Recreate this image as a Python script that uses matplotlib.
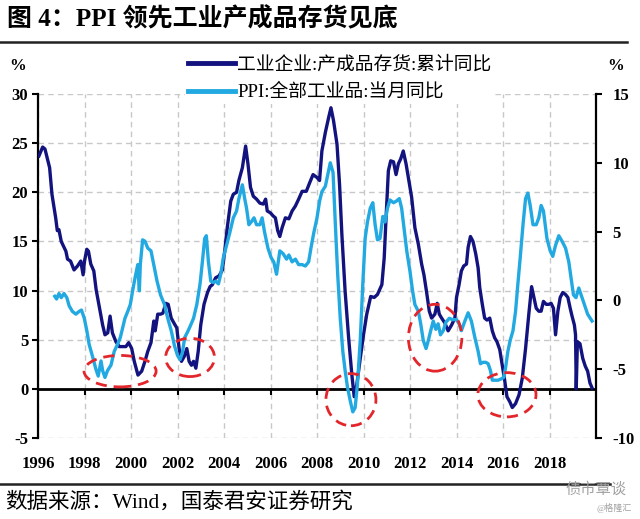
import matplotlib
matplotlib.use('Agg')
import matplotlib.pyplot as plt
from matplotlib.patches import Ellipse
from matplotlib.lines import Line2D

plt.rcParams['font.family'] = ['Liberation Serif', 'Noto Sans CJK SC']
plt.rcParams['font.weight'] = 'bold'
plt.rcParams['axes.unicode_minus'] = False

# 工业企业:产成品存货:累计同比 (left axis, %)
inv_t = [1996.04, 1996.2, 1996.3, 1996.5, 1996.6, 1996.76, 1996.83, 1996.9,
         1997.0, 1997.2, 1997.27, 1997.4, 1997.55, 1997.7, 1997.84, 1997.94,
         1998.0, 1998.1, 1998.17, 1998.27, 1998.4, 1998.5, 1998.63, 1998.78, 1998.88,
         1999.0, 1999.1, 1999.2, 1999.35, 1999.5, 1999.64, 1999.78, 1999.9,
         2000.03, 2000.14, 2000.3, 2000.46, 2000.6, 2000.72, 2000.86, 2000.98,
         2001.04, 2001.15, 2001.27, 2001.37, 2001.5, 2001.6, 2001.73, 2001.87, 2001.97,
         2002.07, 2002.17, 2002.29, 2002.4, 2002.5, 2002.6, 2002.69, 2002.79, 2002.89,
         2003.0, 2003.14, 2003.29, 2003.4, 2003.5, 2003.64, 2003.79, 2003.93,
         2004.03, 2004.14, 2004.29, 2004.4, 2004.54, 2004.64, 2004.79, 2004.93,
         2005.03, 2005.14, 2005.26, 2005.4, 2005.54, 2005.69, 2005.79, 2005.86,
         2006.0, 2006.11, 2006.21, 2006.31, 2006.4, 2006.5, 2006.64, 2006.79, 2006.93,
         2007.07, 2007.21, 2007.36, 2007.54, 2007.69, 2007.83,
         2008.0, 2008.11, 2008.21, 2008.36, 2008.5, 2008.6, 2008.71, 2008.86, 2008.97,
         2009.07, 2009.21, 2009.36, 2009.5, 2009.6, 2009.71, 2009.86,
         2010.0, 2010.14, 2010.31, 2010.46, 2010.6, 2010.79, 2010.89, 2010.97,
         2011.07, 2011.17, 2011.29, 2011.4, 2011.5, 2011.6, 2011.71, 2011.83, 2011.93,
         2012.07, 2012.21, 2012.36, 2012.5, 2012.6, 2012.71, 2012.83, 2012.93,
         2013.07, 2013.17, 2013.26, 2013.36, 2013.5, 2013.64, 2013.79, 2013.93,
         2014.0, 2014.11, 2014.21, 2014.31, 2014.43, 2014.5, 2014.6, 2014.71, 2014.83, 2014.93,
         2015.0, 2015.11, 2015.21, 2015.31, 2015.43, 2015.54, 2015.64, 2015.74, 2015.86, 2015.97,
         2016.07, 2016.17, 2016.29, 2016.4, 2016.54, 2016.69, 2016.83, 2016.97,
         2017.11, 2017.23, 2017.33, 2017.43, 2017.54, 2017.64, 2017.74, 2017.86, 2017.97,
         2018.07, 2018.17, 2018.26, 2018.36, 2018.46, 2018.57, 2018.69, 2018.79, 2018.89, 2018.97,
         2019.07, 2019.12, 2019.15, 2019.2, 2019.31, 2019.43, 2019.54, 2019.64, 2019.74, 2019.83]
inv_v = [23.7, 24.6, 24.4, 22.5, 19.8, 17.4, 16.1, 16.2,
         15.0, 14.0, 13.2, 13.0, 12.1, 12.5, 13.0, 11.6,
         13.0, 14.2, 14.0, 12.7, 12.0, 10.1, 8.4, 6.5, 5.5,
         5.7, 7.4, 5.7, 4.8, 4.3, 4.3, 4.3, 4.7,
         4.1, 2.8, 1.4, 1.8, 2.8, 3.8, 4.7, 6.9,
         5.9, 7.6, 7.6, 7.7, 8.7, 8.6, 7.2, 6.6, 6.2,
         4.1, 2.8, 3.3, 4.1, 2.8, 2.4, 2.8, 2.1, 3.8,
         6.5, 8.6, 9.8, 10.4, 10.6, 11.3, 11.5, 12.1,
         14.0, 16.4, 19.1, 19.8, 20.0, 21.2, 22.5, 24.7,
         22.9, 20.5, 19.6, 19.3, 18.9, 18.8, 19.3, 18.1,
         17.9, 17.6, 17.4, 16.1, 15.5, 16.4, 17.4, 17.3, 18.1,
         18.6, 19.3, 20.1, 20.1, 21.0, 21.8,
         21.5, 21.2, 24.2, 26.1, 27.6, 28.6, 27.3, 24.9, 20.8,
         15.7, 9.9, 5.2, 1.4, -0.8, 0.4, 3.1,
         5.5, 7.6, 9.4, 9.3, 9.6, 10.6, 13.3, 17.4,
         22.2, 23.2, 23.1, 21.8, 22.9, 23.4, 24.2, 22.9, 21.5,
         19.5, 16.4, 14.7, 12.7, 11.6, 9.9, 7.9, 7.2,
         7.6, 8.7, 7.6, 7.2, 6.7, 5.9, 6.5, 7.2,
         9.3, 10.6, 12.0, 12.5, 12.7, 14.4, 15.5, 15.0, 13.7, 12.3,
         10.3, 8.6, 7.2, 7.0, 7.2, 5.9, 5.2, 4.8, 4.0, 2.4,
         0.9, -0.8, -1.3, -1.9, -1.5, -0.6, 1.1, 4.1,
         7.6, 10.4, 9.3, 8.2, 7.9, 7.9, 8.9, 8.6, 8.6,
         8.7, 8.2, 5.5, 7.9, 9.3, 9.8, 9.6, 9.3, 8.2, 7.4,
         6.5, 5.5, 0.0, 4.8, 4.6, 3.1, 2.3, 1.8, 0.6, 0.1]

# PPI:全部工业品:当月同比 (right axis, %)
ppi_t = [1996.72, 1996.8, 1996.9,
         1997.0, 1997.12, 1997.24, 1997.34, 1997.48, 1997.63, 1997.77, 1997.87, 1997.99,
         1998.1, 1998.2, 1998.35, 1998.49, 1998.59, 1998.71, 1998.78, 1998.88, 1998.99,
         1999.14, 1999.28, 1999.42, 1999.54, 1999.64, 1999.74, 1999.86, 1999.97,
         2000.07, 2000.17, 2000.29, 2000.36, 2000.4, 2000.5, 2000.6, 2000.72, 2000.86, 2000.98,
         2001.12, 2001.27, 2001.44, 2001.58, 2001.73, 2001.87,
         2002.0, 2002.11, 2002.21, 2002.31, 2002.43, 2002.54, 2002.69, 2002.83, 2002.97,
         2003.07, 2003.17, 2003.24, 2003.33, 2003.43, 2003.54, 2003.64, 2003.76, 2003.86, 2003.97,
         2004.11, 2004.26, 2004.4, 2004.54, 2004.64, 2004.79, 2004.89, 2004.97,
         2005.07, 2005.17, 2005.29, 2005.4, 2005.54, 2005.64, 2005.74, 2005.89,
         2006.03, 2006.14, 2006.26, 2006.4, 2006.54, 2006.69, 2006.79, 2006.93,
         2007.07, 2007.21, 2007.36, 2007.5, 2007.64, 2007.74, 2007.86,
         2008.0, 2008.11, 2008.21, 2008.36, 2008.46, 2008.57, 2008.69, 2008.79, 2008.89,
         2009.0, 2009.11, 2009.21, 2009.31, 2009.43, 2009.54, 2009.64, 2009.74, 2009.86, 2009.97,
         2010.07, 2010.17, 2010.29, 2010.4, 2010.5, 2010.6, 2010.71, 2010.83, 2010.93,
         2011.03, 2011.14, 2011.29, 2011.4, 2011.54, 2011.64, 2011.74, 2011.86,
         2012.0, 2012.11, 2012.21, 2012.36, 2012.46, 2012.57, 2012.69, 2012.79, 2012.89,
         2013.0, 2013.11, 2013.21, 2013.31, 2013.43, 2013.54, 2013.69, 2013.83,
         2014.0, 2014.11, 2014.21, 2014.36, 2014.5, 2014.64, 2014.79, 2014.93,
         2015.03, 2015.14, 2015.26, 2015.36, 2015.46, 2015.54, 2015.64, 2015.79, 2015.93,
         2016.03, 2016.11, 2016.21, 2016.31, 2016.43, 2016.54, 2016.64, 2016.74, 2016.86, 2016.97,
         2017.07, 2017.17, 2017.29, 2017.43, 2017.54, 2017.64, 2017.74, 2017.89,
         2018.03, 2018.14, 2018.26, 2018.4, 2018.54, 2018.69, 2018.83, 2018.93,
         2019.03, 2019.14, 2019.26, 2019.36, 2019.5, 2019.64, 2019.83]
ppi_v = [0.3, 0.1, 0.5,
         0.2, 0.5, 0.2, -0.4, -0.8, -1.0, -0.8, -0.7, -1.3,
         -2.2, -3.2, -4.1, -5.0, -5.5, -4.4, -5.1, -5.6, -5.1,
         -4.7, -3.7, -3.2, -2.7, -2.0, -1.3, -0.8, -0.3,
         0.7, 1.6, 2.6, 0.7, 2.6, 4.4, 4.3, 3.8, 3.6, 2.6,
         1.4, 0.4, -0.3, -1.3, -2.2, -3.3,
         -4.0, -4.3, -3.8, -2.7, -2.3, -1.9, -1.3, -0.3, 1.2,
         2.8, 4.5, 4.7, 2.8, 1.4, 1.3, 1.4, 1.2, 1.9, 3.1,
         4.0, 5.0, 6.0, 6.5, 7.4, 8.4, 7.4, 6.7,
         5.5, 5.7, 6.0, 5.5, 5.5, 6.0, 5.0, 3.8,
         3.1, 2.8, 1.9, 3.6, 3.4, 3.0, 3.3, 2.8,
         3.0, 2.6, 2.6, 2.5, 2.8, 3.8, 4.9,
         6.0, 7.2, 7.9, 8.3, 9.1, 10.0, 9.3, 5.5, 1.9,
         -1.3, -3.7, -5.1, -6.3, -7.3, -8.1, -7.8, -6.1, -2.9, 1.2,
         4.5, 5.7, 6.7, 7.1, 5.5, 4.4, 4.5, 6.1, 5.7,
         6.7, 7.3, 7.1, 7.2, 7.4, 6.7, 5.3, 3.6,
         2.1, 0.7, -0.3, -0.8, -1.7, -2.9, -3.5, -2.9, -2.2,
         -1.5, -2.1, -1.7, -2.5, -2.2, -1.6, -1.3, -1.4,
         -1.4, -1.7, -2.2, -1.5, -0.9, -1.5, -2.7, -3.7,
         -4.6, -4.5, -4.5, -4.6, -5.1, -5.8, -5.8, -5.8, -5.7,
         -5.6, -4.9, -3.7, -2.9, -2.2, -0.8, 1.2, 3.1, 5.5, 7.4,
         7.8, 6.9, 5.5, 5.5, 6.0, 6.9, 6.5, 4.5,
         3.6, 3.2, 4.0, 4.7, 4.3, 3.8, 2.8, 1.6,
         0.4, 0.2, 0.9, 0.4, -0.3, -1.0, -1.5]

year_ticks = list(range(1996, 2020, 2))
left_ticks = [-5, 0, 5, 10, 15, 20, 25, 30]
right_ticks = [-10, -5, 0, 5, 10, 15]

# highlighted troughs: (centre year, centre value on left axis, width in years, height)
circles = [(1999.53, 1.8, 3.1, 3.2),
           (2002.54, 3.2, 2.1, 3.9),
           (2009.46, -1.1, 2.15, 5.3),
           (2013.08, 5.2, 2.3, 6.8),
           (2016.17, -0.6, 2.5, 4.5)]

dark = '#13137f'
light = '#22a9e1'

fig = plt.figure(figsize=(6.4, 5.19), dpi=100)
ax = fig.add_axes([38/640, 1 - 438/519, (596 - 38)/640, (438 - 94)/519])
ax2 = ax.twinx()

l1, = ax.plot(inv_t, inv_v, color=dark, lw=2.4, solid_joinstyle='round', zorder=3)
l2, = ax2.plot(ppi_t, ppi_v, color=light, lw=2.4, solid_joinstyle='round', zorder=3)

ax.set_xlim(1996, 2020)
ax.set_ylim(-5, 30)
ax2.set_ylim(-10, 15)
ax.set_xticks(year_ticks)
ax.set_xticklabels([str(y) for y in year_ticks])
ax.set_yticks(left_ticks)
ax2.set_yticks(right_ticks)

ax.grid(True, color='#c8c8c8', linestyle=(0, (4, 3)), linewidth=1)
ax.set_axisbelow(True)

for s in ['top', 'bottom', 'right']:
    ax.spines[s].set_visible(False)
for s in ['top', 'bottom', 'left']:
    ax2.spines[s].set_visible(False)
ax.spines['left'].set_linewidth(1.6)
ax2.spines['right'].set_linewidth(1.6)

ax.tick_params(axis='x', length=0, pad=13, labelsize=12)
ax.tick_params(axis='y', direction='out', length=4, width=1.5, pad=3, labelsize=12)
ax2.tick_params(axis='y', direction='out', length=4, width=1.5, pad=8, labelsize=12)

# zero line with its own tick marks
ax.axhline(0, color='black', lw=2, zorder=2)
ax.plot(year_ticks[1:], [0] * len(year_ticks[1:]), ls='none', marker=3,
        ms=4, mew=1.5, color='black', zorder=2, clip_on=False)

for cx, cy, w, h in circles:
    ax2.add_patch(Ellipse((cx, cy), w, h, transform=ax.transData, fill=False,
                          edgecolor='#e2262b', lw=2, linestyle=(0, (4, 2.5)), zorder=4))

leg = ax2.legend([l1, l2], ['工业企业:产成品存货:累计同比', 'PPI:全部工业品:当月同比'],
                 loc='upper left', bbox_to_anchor=(185/640, 1 - 53/519),
                 bbox_transform=fig.transFigure, frameon=True, fancybox=False,
                 facecolor='white', edgecolor='none', framealpha=1,
                 handlelength=2.5, handletextpad=0.15, labelspacing=0.55,
                 borderpad=0.15, borderaxespad=0,
                 prop={'size': 13.5, 'weight': 'normal'})
for h in leg.get_lines():
    h.set_linewidth(3.5)

fig.text(18/640, 1 - 66/519, '%', fontsize=12, ha='center', va='center')
fig.text(616/640, 1 - 66/519, '%', fontsize=12, ha='center', va='center')

fig.text(7/640, 1 - 19/519, '图 4：PPI 领先工业产成品存货见底', fontsize=18,
         fontweight='bold', ha='left', va='center')
fig.add_artist(Line2D([0, 627/640], [1 - 42/519, 1 - 42/519], color='#222222', lw=1.8))
fig.add_artist(Line2D([0, 610/640], [1 - 484/519, 1 - 484/519], color='#222222', lw=1.8))
fig.text(5/640, 1 - 502/519, '数据来源：Wind，国泰君安证券研究', fontsize=15.5,
         fontweight='normal', ha='left', va='center')
fig.text(596/640, 1 - 490/519, '债市覃谈', fontsize=11, fontweight='normal',
         color='#a0a0a0', ha='center', va='center')
fig.text(614/640, 1 - 508/519, '@格隆汇', fontsize=6.5, fontweight='normal',
         color='#a0a0a0', ha='center', va='center')

plt.savefig('out.png', dpi=100)
